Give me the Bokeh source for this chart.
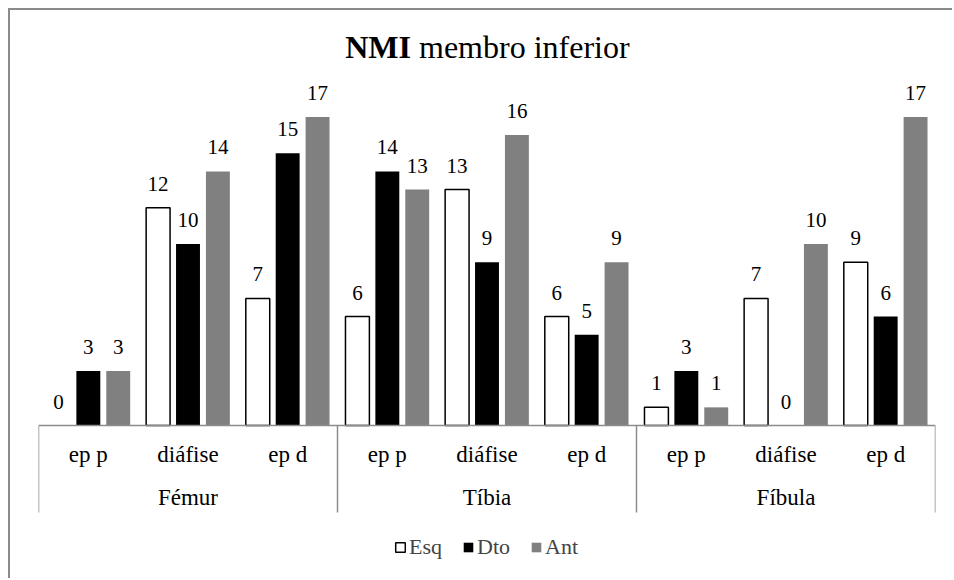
from bokeh.plotting import figure
from bokeh.models import ColumnDataSource, FactorRange, Range1d, Legend, LegendItem
from bokeh.transform import dodge
from bokeh.core.properties import value
from bokeh.embed import file_html
from bokeh.resources import INLINE

# ---- data ----
bones = ["Fémur", "Tíbia", "Fíbula"]
parts = ["ep p", "diáfise", "ep d"]
series = ["Esq", "Dto", "Ant"]
esq = [0, 12, 7, 6, 13, 6, 1, 7, 9]
dto = [3, 10, 15, 14, 9, 5, 3, 0, 6]
ant = [3, 14, 17, 13, 16, 9, 1, 10, 17]

FONT = "Liberation Serif"
factors = [(b, pt) for b in bones for pt in parts]

src = ColumnDataSource(data=dict(x=factors, esq=esq, dto=dto, ant=ant,
                                 esq_line=["black" if v > 0 else None for v in esq],
                                 esq_t=[str(v) for v in esq],
                                 dto_t=[str(v) for v in dto],
                                 ant_t=[str(v) for v in ant]))

p = figure(width=944, height=570, output_backend="svg", toolbar_location=None,
           x_range=FactorRange(*factors, range_padding=0, group_padding=0, factor_padding=0),
           y_range=Range1d(-8.209, 22.645),
           x_axis_location=None, y_axis_location=None,
           min_border_left=28, min_border_right=19, min_border_top=4, min_border_bottom=6)
p.styles = {"margin-left": "8px", "margin-top": "8px",
            "border-left": "2px solid #8a8a8a", "border-top": "2px solid #8a8a8a"}
p.grid.visible = False
p.outline_line_color = None
p.background_fill_color = "white"
p.border_fill_color = "white"

# bars
r_esq = p.vbar(x=dodge("x", -0.30, range=p.x_range), top="esq", width=0.24, source=src,
               fill_color="white", line_color="esq_line", line_width=1.5)
r_dto = p.vbar(x=dodge("x", 0.0, range=p.x_range), top="dto", width=0.24, source=src,
               fill_color="black", line_color=None)
r_ant = p.vbar(x=dodge("x", 0.30, range=p.x_range), top="ant", width=0.24, source=src,
               fill_color="#808080", line_color=None)

# data labels
for off, col in [(-0.30, "esq"), (0.0, "dto"), (0.30, "ant")]:
    p.text(x=dodge("x", off, range=p.x_range), y=col, text=col + "_t", source=src,
           text_align="center", text_baseline="alphabetic", y_offset=-24,
           text_font=value(FONT), text_font_size="21px", text_color="black")

# category axis: baseline and separators
n = len(factors)
p.segment(x0=[0], y0=[0], x1=[n], y1=[0], line_color="#8c8c8c", line_width=1.5)
bounds = [i * len(parts) for i in range(len(bones) + 1)]
p.segment(x0=bounds, y0=[0] * len(bounds), x1=bounds, y1=[-4.79] * len(bounds),
          line_color="#8c8c8c", line_width=1.5)

# category labels
p.text(x=factors, y=[-2.04] * n, text=[f[1] for f in factors],
       text_align="center", text_baseline="alphabetic", y_offset=-8,
       text_font=value(FONT), text_font_size="23px", text_color="black")
p.text(x=bones, y=[-4.52] * len(bones), text=bones,
       text_align="center", text_baseline="alphabetic", y_offset=-10,
       text_font=value(FONT), text_font_size="23px", text_color="black")

# title (bold "NMI" + regular rest)
p.text(x=[n / 2], y=[20.22], text=["NMI"], text_align="right", text_baseline="alphabetic",
       x_offset=-76, y_offset=-12, text_font=value(FONT), text_font_style="bold",
       text_font_size="32px", text_color="black")
p.text(x=[n / 2], y=[20.22], text=["membro inferior"], text_align="left", text_baseline="alphabetic",
       x_offset=-68, y_offset=-12, text_font=value(FONT), text_font_size="32px", text_color="black")

legend = Legend(items=[LegendItem(label=series[0], renderers=[r_esq], index=1),
                       LegendItem(label=series[1], renderers=[r_dto]),
                       LegendItem(label=series[2], renderers=[r_ant])],
                location=(356, 14), orientation="horizontal",
                glyph_width=12, glyph_height=12, label_standoff=3, spacing=20,
                padding=0, margin=0, border_line_color=None, background_fill_alpha=0,
                label_text_font=FONT, label_text_font_size="22px")
p.add_layout(legend)

open("out.html", "w").write(file_html(p, INLINE))
